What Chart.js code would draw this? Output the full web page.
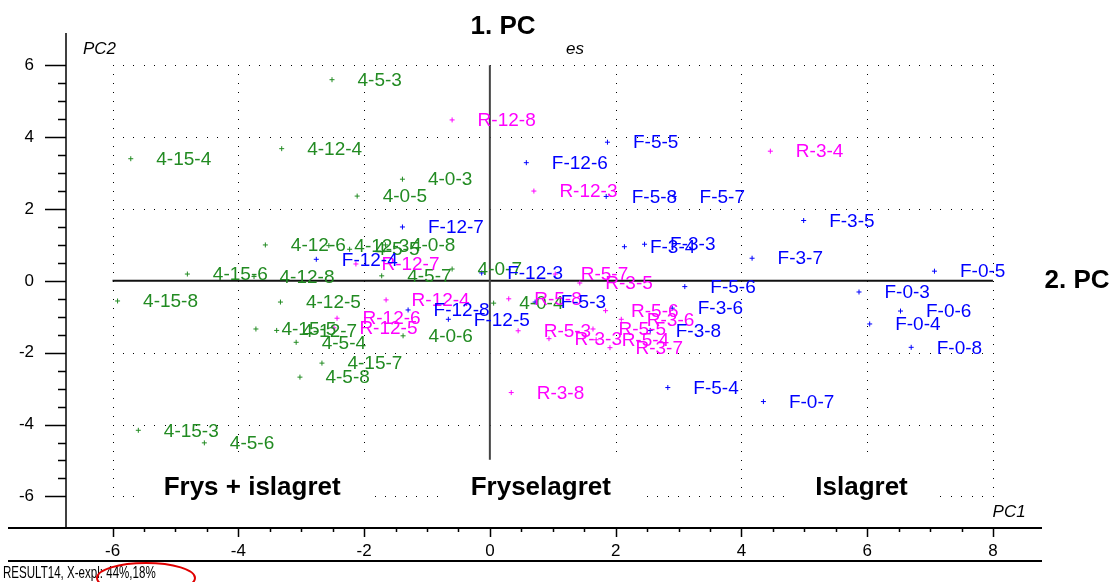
<!DOCTYPE html>
<html>
<head>
<meta charset="utf-8">
<title>PCA scores</title>
<script src="https://cdn.jsdelivr.net/npm/chart.js@4.4.1/dist/chart.umd.min.js"></script>
<style>
  html, body { margin: 0; padding: 0; background: #fff; }
  canvas { display: block; }
</style>
</head>
<body>
<canvas id="myChart" width="1119" height="582"></canvas>
<script>
// sample names and scores (PC1, PC2) per storage group
const group4Names = ['4-5-3','4-15-4','4-12-4','4-0-3','4-0-5','4-12-6','4-12-3','4-5-5','4-0-8','4-15-6','4-12-8','4-5-7',
  '4-0-7','4-15-8','4-12-5','4-15-5','4-12-7','4-5-4','4-0-6','4-15-7','4-5-8','4-15-3','4-5-6','4-0-4'];
const group4PC1 = [-2.51,-5.71,-3.31,-1.39,-2.11,-3.57,-2.56,-2.23,-1.66,-4.81,-3.75,-1.72,
  -0.60,-5.92,-3.33,-3.72,-3.39,-3.08,-1.38,-2.67,-3.02,-5.59,-4.54,0.06];
const group4PC2 = [5.60,3.40,3.68,2.83,2.36,1.00,0.98,0.88,1.00,0.19,0.12,0.14,
  0.33,-0.56,-0.59,-1.34,-1.38,-1.71,-1.53,-2.29,-2.68,-4.16,-4.51,-0.62];

const groupRNames = ['R-12-8','R-12-3','R-12-7','R-12-4','R-12-6','R-12-5','R-3-4','R-5-7','R-3-5','R-5-8','R-5-6','R-3-6',
  'R-5-3','R-3-3','R-5-5','R-5-4','R-3-7','R-3-8'];
const groupRPC1 = [-0.60,0.70,-2.13,-1.65,-2.43,-2.48,4.46,1.04,1.43,0.30,1.84,2.09,
  0.45,0.94,1.64,1.69,1.91,0.34];
const groupRPC2 = [4.48,2.50,0.47,-0.53,-1.04,-1.31,3.61,0.19,-0.06,-0.50,-0.83,-1.07,
  -1.39,-1.61,-1.34,-1.64,-1.86,-3.11];

const groupFNames = ['F-12-7','F-12-4','F-12-3','F-12-8','F-12-5','F-12-6','F-5-5','F-5-8','F-5-7','F-3-4','F-3-3','F-3-7',
  'F-5-6','F-5-3','F-3-6','F-3-8','F-5-4','F-0-7','F-3-5','F-0-5','F-0-3','F-0-6','F-0-4','F-0-8'];
const groupFPC1 = [-1.39,-2.76,-0.13,-1.30,-0.66,0.58,1.87,1.85,2.93,2.14,2.46,4.17,
  3.10,0.72,2.90,2.55,2.83,4.35,4.99,7.07,5.87,6.53,6.04,6.70];
const groupFPC2 = [1.50,0.60,0.22,-0.81,-1.07,3.29,3.86,2.35,2.35,0.95,1.02,0.63,
  -0.16,-0.59,-0.76,-1.38,-2.97,-3.36,1.68,0.27,-0.31,-0.84,-1.20,-1.85];

// axis ticks
const pc1Labels = [-6,-4,-2,0,2,4,6,8];
const pc2Labels = [-6,-4,-2,0,2,4,6];
const minorStep = 0.5;

const fontFamily = "'Liberation Sans', Arial, Helvetica, sans-serif";

function toPoints(pc1, pc2) {
  return pc1.map((v, i) => ({ x: v, y: pc2[i] }));
}

function halfSteps(list) {
  const out = [];
  for (let v = list[0]; v <= list[list.length - 1] + 1e-9; v += minorStep) out.push({ value: Math.round(v * 10) / 10 });
  return out;
}

const pcaPlot = {
  id: 'pcaPlot',
  beforeDatasetsDraw(chart) {
    const c = chart.ctx, xs = chart.scales.x, ys = chart.scales.y;
    const x6 = xs.getPixelForValue(-6), x8 = xs.getPixelForValue(8);
    const yTop = ys.getPixelForValue(6), yBot = ys.getPixelForValue(-6);
    c.save();
    // dotted grid
    c.fillStyle = '#000';
    pc1Labels.forEach(v => {
      if (v === 0) return;
      const px = Math.round(xs.getPixelForValue(v));
      for (let y = yTop; y <= yBot + 0.5; y += 8.98) c.fillRect(px, Math.round(y), 1, 1);
    });
    pc2Labels.forEach(v => {
      if (v === 0) return;
      const py = Math.round(ys.getPixelForValue(v));
      for (let x = x6; x <= x8 + 0.5; x += 10.48) c.fillRect(Math.round(x), py, 1, 1);
    });
    // zero lines
    c.lineWidth = 2;
    c.strokeStyle = '#111';
    c.beginPath();
    c.moveTo(x6, ys.getPixelForValue(0));
    c.lineTo(x8, ys.getPixelForValue(0));
    c.stroke();
    c.strokeStyle = '#444';
    c.beginPath();
    c.moveTo(xs.getPixelForValue(0), yTop);
    c.lineTo(xs.getPixelForValue(0), yBot);
    c.stroke();
    // region captions on white boxes
    c.font = 'bold 26px ' + fontFamily;
    c.textAlign = 'center';
    c.textBaseline = 'middle';
    [['Frys + islagret', -3.78], ['Fryselagret', 0.81], ['Islagret', 5.91]].forEach(([t, v]) => {
      const cx = xs.getPixelForValue(v), cy = ys.getPixelForValue(-5.76);
      const w = c.measureText(t).width + 58;
      c.fillStyle = '#fff';
      c.fillRect(cx - w / 2, cy - 28, w, 56);
      c.fillStyle = '#000';
      c.fillText(t, cx, cy);
    });
    c.restore();
  },
  afterDatasetsDraw(chart) {
    const c = chart.ctx;
    c.save();
    c.font = '19px ' + fontFamily;
    c.textAlign = 'left';
    c.textBaseline = 'middle';
    chart.data.datasets.forEach((ds, i) => {
      const meta = chart.getDatasetMeta(i);
      c.fillStyle = ds.borderColor;
      meta.data.forEach((el, j) => {
        c.fillText(ds.names[j], el.x + 25.5, el.y + 1);
      });
    });
    c.restore();
  },
  afterDraw(chart) {
    const c = chart.ctx, xs = chart.scales.x, ys = chart.scales.y, a = chart.chartArea;
    c.save();
    c.strokeStyle = '#000';
    // axis frame
    c.lineWidth = 1.5;
    c.beginPath();
    c.moveTo(a.left, a.top);
    c.lineTo(a.left, a.bottom);
    c.stroke();
    c.lineWidth = 2;
    c.beginPath();
    c.moveTo(8, a.bottom); c.lineTo(a.right, a.bottom);
    c.moveTo(8, a.bottom + 33); c.lineTo(a.right, a.bottom + 33);
    c.stroke();
    // tick marks
    c.lineWidth = 1.5;
    c.beginPath();
    xs.ticks.forEach(t => {
      const px = Math.round(xs.getPixelForValue(t.value)) + 0.5;
      const len = pc1Labels.includes(t.value) ? 9 : 4;
      c.moveTo(px, a.bottom); c.lineTo(px, a.bottom + len);
    });
    ys.ticks.forEach(t => {
      const py = Math.round(ys.getPixelForValue(t.value)) + 0.5;
      const len = pc2Labels.includes(t.value) ? 21 : 8;
      c.moveTo(a.left, py); c.lineTo(a.left - len, py);
    });
    c.stroke();
    // axis and component titles
    c.fillStyle = '#000';
    c.textBaseline = 'middle';
    c.font = 'italic 17px ' + fontFamily;
    c.textAlign = 'left';
    c.fillText('PC2', xs.getPixelForValue(-6.47), ys.getPixelForValue(6.46));
    c.fillText('es', xs.getPixelForValue(1.21), ys.getPixelForValue(6.46));
    c.textAlign = 'right';
    c.fillText('PC1', xs.getPixelForValue(8.52), ys.getPixelForValue(-6.43));
    c.font = 'bold 26px ' + fontFamily;
    c.textAlign = 'center';
    c.fillText('1. PC', xs.getPixelForValue(0.21), ys.getPixelForValue(7.07));
    c.textAlign = 'left';
    c.fillText('2. PC', xs.getPixelForValue(8.82), ys.getPixelForValue(0));
    // result line, narrow lettering
    c.save();
    c.translate(3, 573);
    c.scale(0.68, 1);
    c.font = '17px ' + fontFamily;
    c.fillText('RESULT14, X-expl: 44%,18%', 0, 0);
    c.restore();
    c.strokeStyle = '#e00000';
    c.lineWidth = 2;
    c.beginPath();
    c.ellipse(146, 578, 49, 15, 0, 0, Math.PI * 2);
    c.stroke();
    c.restore();
  }
};

const chartData = {
  datasets: [
    { names: group4Names, data: toPoints(group4PC1, group4PC2), borderColor: '#228b22' },
    { names: groupRNames, data: toPoints(groupRPC1, groupRPC2), borderColor: '#ff00ff' },
    { names: groupFNames, data: toPoints(groupFPC1, groupFPC2), borderColor: '#0000ff' }
  ]
};
chartData.datasets.forEach(ds => {
  ds.backgroundColor = ds.borderColor;
  ds.pointStyle = 'cross';
  ds.pointRadius = 2.5;
  ds.borderWidth = 1;
});

const ctx = document.getElementById('myChart').getContext('2d');
const myChart = new Chart(ctx, {
  type: 'scatter',
  data: chartData,
  plugins: [pcaPlot],
  options: {
    responsive: false,
    animation: false,
    events: [],
    layout: { padding: { top: 33, right: 77, left: 0, bottom: 0 } },
    plugins: { legend: { display: false }, tooltip: { enabled: false } },
    scales: {
      x: {
        type: 'linear',
        min: -6.74,
        max: 8.78,
        afterFit: s => { s.height = 54; },
        afterBuildTicks: s => { s.ticks = halfSteps(pc1Labels); },
        grid: { display: false, drawTicks: true, tickLength: 9 },
        border: { display: false },
        ticks: {
          autoSkip: false, maxRotation: 0, padding: 4, color: '#000',
          font: { size: 17, family: fontFamily },
          callback: v => pc1Labels.includes(v) ? String(v) : ''
        }
      },
      y: {
        type: 'linear',
        min: -6.88,
        max: 6.90,
        afterFit: s => { s.width = 66; },
        afterBuildTicks: s => { s.ticks = halfSteps(pc2Labels); },
        grid: { display: false, drawTicks: true, tickLength: 20 },
        border: { display: false },
        ticks: {
          autoSkip: false, padding: 12, color: '#000',
          font: { size: 17, family: fontFamily },
          callback: v => pc2Labels.includes(v) ? String(v) : ''
        }
      }
    }
  }
});
</script>
</body>
</html>
